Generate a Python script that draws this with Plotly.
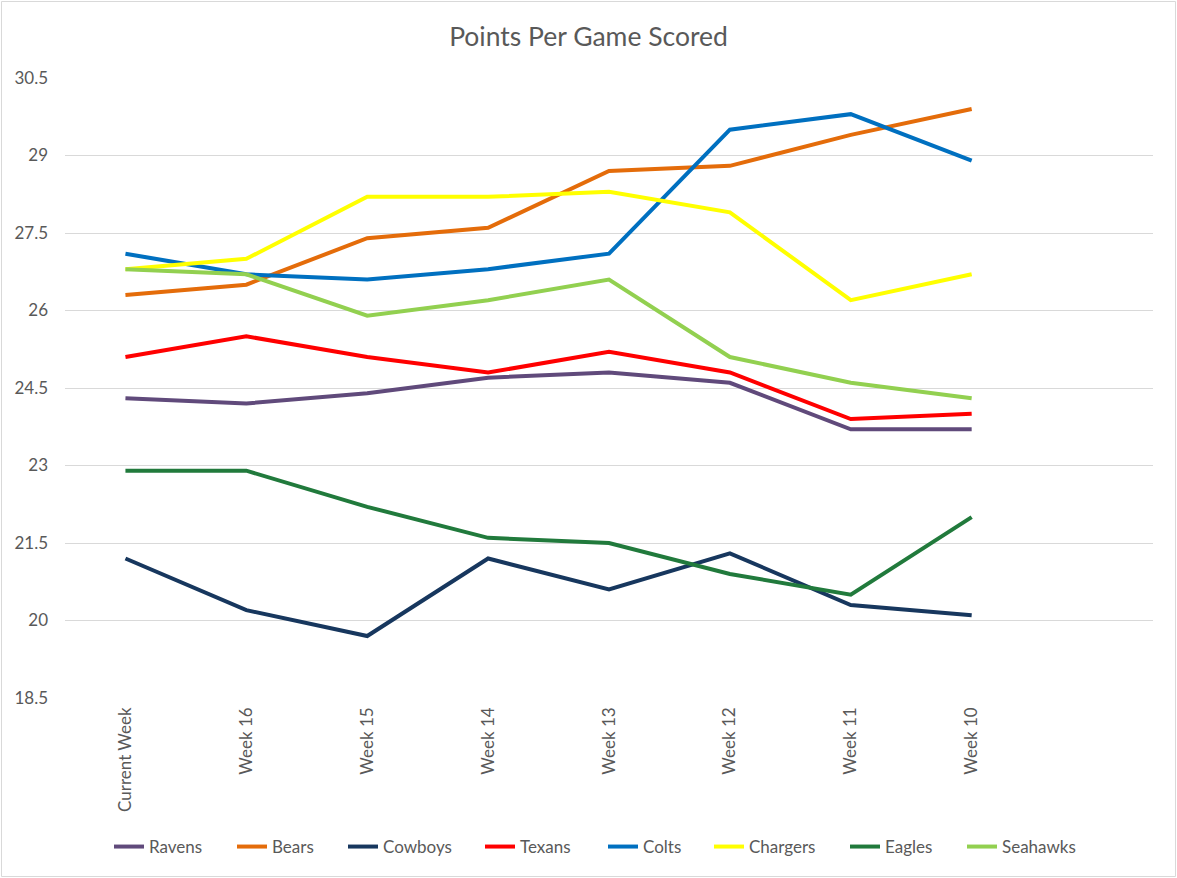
import plotly.graph_objects as go

categories = ["Current Week", "Week 16", "Week 15", "Week 14", "Week 13", "Week 12", "Week 11", "Week 10"]
ravens = [24.3, 24.2, 24.4, 24.7, 24.8, 24.6, 23.7, 23.7]
bears = [26.3, 26.5, 27.4, 27.6, 28.7, 28.8, 29.4, 29.9]
cowboys = [21.2, 20.2, 19.7, 21.2, 20.6, 21.3, 20.3, 20.1]
texans = [25.1, 25.5, 25.1, 24.8, 25.2, 24.8, 23.9, 24.0]
colts = [27.1, 26.7, 26.6, 26.8, 27.1, 29.5, 29.8, 28.9]
chargers = [26.8, 27.0, 28.2, 28.2, 28.3, 27.9, 26.2, 26.7]
eagles = [22.9, 22.9, 22.2, 21.6, 21.5, 20.9, 20.5, 22.0]
seahawks = [26.8, 26.7, 25.9, 26.2, 26.6, 25.1, 24.6, 24.3]
y_ticks = [18.5, 20, 21.5, 23, 24.5, 26, 27.5, 29, 30.5]

series = [
    ("Ravens", ravens, "#604A7B"),
    ("Bears", bears, "#E46C0A"),
    ("Cowboys", cowboys, "#17375E"),
    ("Texans", texans, "#FF0000"),
    ("Colts", colts, "#0070C0"),
    ("Chargers", chargers, "#FFFF00"),
    ("Eagles", eagles, "#217A3C"),
    ("Seahawks", seahawks, "#92D050"),
]

# legend text start positions (px) in the reference
legend_text_x = [151, 274, 385, 522, 645, 751, 887, 1004]

W, H = 1177, 878
ML, MR, MT, MB = 65, 24, 78, 180
PW, PH = W - ML - MR, H - MT - MB

FONT = "Lato, Carlito, Liberation Sans, Arial, sans-serif"
GREY = "#595959"

fig = go.Figure()
legends = {}
for i, (name, vals, col) in enumerate(series):
    key = "legend" if i == 0 else f"legend{i+1}"
    fig.add_trace(go.Scatter(
        x=categories, y=vals, name=name, mode="lines",
        line=dict(color=col, width=4), legend=key,
    ))
    legends[key] = dict(
        orientation="h", xanchor="left", yanchor="middle",
        x=(legend_text_x[i] - 42 - ML) / PW, y=(MT + PH - 847) / PH,
        font=dict(size=17, color=GREY, family=FONT),
        bgcolor="rgba(0,0,0,0)", borderwidth=0,
    )

fig.update_layout(
    width=W, height=H,
    margin=dict(l=ML, r=MR, t=MT, b=MB),
    paper_bgcolor="white", plot_bgcolor="white",
    font=dict(family=FONT, color=GREY, size=17),
    title=dict(text="Points Per Game Scored", x=0.5, xanchor="center",
               y=1 - 37 / H, yanchor="middle", yref="container",
               font=dict(size=26.5, color=GREY, family=FONT)),
    showlegend=True,
    xaxis=dict(type="category", categoryorder="array", categoryarray=categories,
               range=[-0.5, 8.5], showgrid=False, zeroline=False, showline=False,
               tickangle=-90, ticks="", ticklabelstandoff=5,
               tickfont=dict(size=17, color=GREY, family=FONT)),
    yaxis=dict(range=[18.5, 30.5], tickvals=y_ticks, ticktext=[f"{v:g}" for v in y_ticks],
               showgrid=True, gridcolor="#D9D9D9", gridwidth=1, zeroline=False,
               showline=False, ticks="", ticklabelstandoff=16,
               tickfont=dict(size=17, color=GREY, family=FONT)),
    **legends,
)

fig.add_shape(type="rect", xref="paper", yref="paper",
              x0=(1.5 - ML) / PW, x1=(W - 1.5 - ML) / PW,
              y0=-(MB - 1.5) / PH, y1=1 + (MT - 1.5) / PH,
              line=dict(color="#D9D9D9", width=1), layer="below")

fig.write_html("out.html", config={"displayModeBar": False},
               post_script="document.body.style.margin='0';document.body.style.overflow='hidden';")
